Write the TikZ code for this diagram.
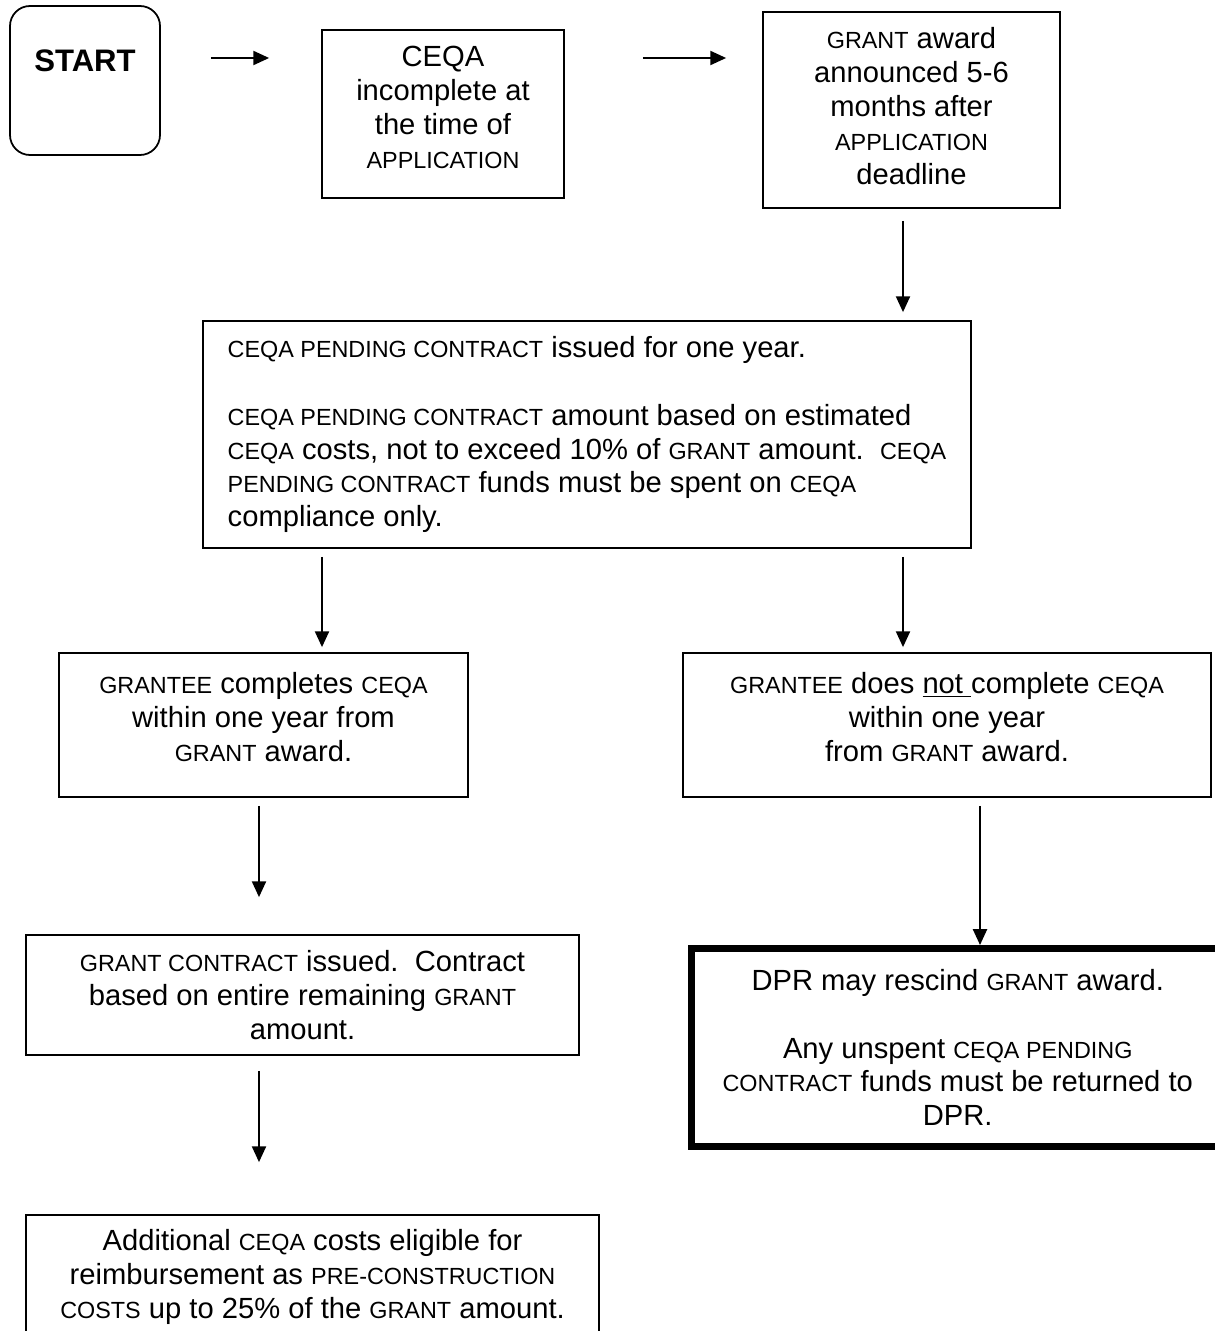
\documentclass[tikz,border=0pt]{standalone}
\usepackage{fontspec}
\setmainfont{Liberation Sans}
\usetikzlibrary{arrows.meta,positioning,calc}
\newcommand{\smcap}[1]{{\fontsize{13.3}{19.3}\selectfont #1}}
\newcommand{\liftup}[1]{\\[#1]\mbox{}}

\begin{document}
\begin{tikzpicture}[
            font=\fontsize{16.6}{19.3}\selectfont,
            >={Triangle[length=9pt,width=8pt]},
            box/.style={draw, line width=1pt, align=center, inner sep=2pt},
            startbox/.style={box, rounded corners=0.4cm, minimum width=3.0cm, minimum height=2.98cm,
                             font=\fontsize{17.7}{21}\selectfont\bfseries},
            note/.style={box, align=left},
            heavy/.style={box, line width=4pt},
            arr/.style={->, line width=1.1pt}
        ]
            \useasboundingbox (0,0) rectangle (24.28,-26.62);

            \node[startbox] (start) at (1.70,-1.61) {START\\[2pt]\mbox{}};

            \node[box, minimum width=4.84cm, minimum height=3.36cm] (ceqa) at (8.86,-2.28)
                {CEQA\\
                 incomplete at\\
                 the time of\\
                 \smcap{APPLICATION}\liftup{-12pt}};

            \node[box, minimum width=5.94cm, minimum height=3.92cm] (award) at (18.23,-2.20)
                {\smcap{GRANT} award\\
                 announced 5-6\\
                 months after\\
                 \smcap{APPLICATION}\\
                 deadline\liftup{-14.8pt}};

            \node[note, minimum width=15.36cm, minimum height=4.54cm] (pend) at (11.74,-8.69)
                {\smcap{CEQA PENDING CONTRACT} issued for one year.\\[19.3pt]
                 \smcap{CEQA PENDING CONTRACT} amount based on estimated\\
                 \smcap{CEQA} costs, not to exceed 10\% of \smcap{GRANT} amount.\ \ \smcap{CEQA}\\
                 \smcap{PENDING CONTRACT} funds must be spent on \smcap{CEQA}\\
                 compliance only.};

            \node[box, minimum width=8.18cm, minimum height=2.88cm] (done) at (5.27,-14.5)
                {\smcap{GRANTEE} completes \smcap{CEQA}\\
                 within one year from\\
                 \smcap{GRANT} award.\liftup{-10pt}};

            \node[box, minimum width=10.56cm, minimum height=2.88cm] (notdone) at (18.94,-14.5)
                {\smcap{GRANTEE} does \underline{not\ }complete \smcap{CEQA}\\
                 within one year\\
                 from \smcap{GRANT} award.\liftup{-10pt}};

            \node[box, minimum width=11.06cm, minimum height=2.4cm] (gcontract) at (6.05,-19.9)
                {\smcap{GRANT CONTRACT} issued.\ \ Contract\\
                 based on entire remaining \smcap{GRANT}\\
                 amount.};

            \node[heavy, minimum width=10.65cm, minimum height=3.96cm] (rescind) at (19.155,-20.95)
                {DPR may rescind \smcap{GRANT} award.\\[19.3pt]
                 Any unspent \smcap{CEQA PENDING}\\
                 \smcap{CONTRACT} funds must be returned to\\
                 DPR.};

            \node[box, minimum width=11.46cm, minimum height=2.48cm] (preconst) at (6.25,-25.54)
                {Additional \smcap{CEQA} costs eligible for\\
                 reimbursement as \smcap{PRE-CONSTRUCTION}\\
                 \smcap{COSTS} up to 25\% of the \smcap{GRANT} amount.};

            \draw[arr, shorten <=1.0cm, shorten >=1.04cm] (start.east |- 0,-1.16) -- (ceqa.west |- 0,-1.16);
            \draw[arr, shorten <=1.56cm, shorten >=0.72cm] (ceqa.east |- 0,-1.16) -- (award.west |- 0,-1.16);
            \draw[arr, shorten <=0.24cm, shorten >=0.16cm] (award.south -| 18.06,0) -- (pend.north -| 18.06,0);
            \draw[arr, shorten <=0.16cm, shorten >=0.1cm] (pend.south -| 6.44,0) -- (done.north -| 6.44,0);
            \draw[arr, shorten <=0.16cm, shorten >=0.1cm] (pend.south -| 18.06,0) -- (notdone.north -| 18.06,0);
            \draw[arr, shorten <=0.16cm, shorten >=0.74cm] (done.south -| 5.18,0) -- (gcontract.north -| 5.18,0);
            \draw[arr, shorten <=0.16cm] (notdone.south -| 19.6,0) -- (rescind.north -| 19.6,0);
            \draw[arr, shorten <=0.3cm, shorten >=1.04cm] (gcontract.south -| 5.18,0) -- (preconst.north -| 5.18,0);
        \end{tikzpicture}
\end{document}
